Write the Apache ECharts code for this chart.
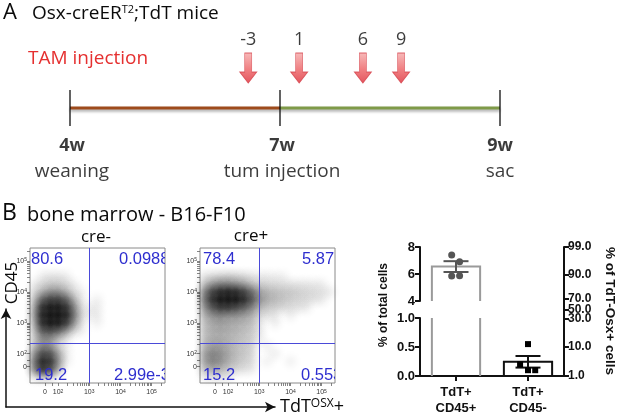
<!DOCTYPE html>
<html>
<head>
<meta charset="utf-8">
<script src="https://cdn.jsdelivr.net/npm/echarts@6/dist/echarts.min.js"></script>
<style>
    html, body { margin: 0; padding: 0; background: #fff; }
    #main { width: 617px; height: 414px; }
</style>
</head>
<body>
<div id="main"></div>
<script>
// A: schedule
var weeks = [4, 7, 9]
var weekLabels = ['4w', '7w', '9w']
var weekEvents = ['weaning', 'tum injection', 'sac']
var injectionDays = [-3, 1, 6, 9]

// B: flow plots, density of dots per cell, rows top -> bottom
var cellX = [1.25, 1.5, 1.75, 2.0, 2.25, 2.5, 2.75, 3.0, 3.25, 3.5, 3.75, 4.0, 4.25, 4.5, 4.75, 5.0, 5.25]
var cellY = [4.5, 4.25, 4.0, 3.75, 3.5, 3.25, 3.0, 2.75, 2.5, 2.25, 2.0, 1.75, 1.5, 1.25]
var creMinusDensity = [
    [0, 0.03, 0.05, 0.05, 0.03],
    [0.03, 0.08, 0.12, 0.12, 0.08, 0.03],
    [0.08, 0.2, 0.3, 0.3, 0.2, 0.07, 0.02],
    [0.15, 0.5, 0.65, 0.65, 0.5, 0.2, 0.03, 0, 0.02],
    [0.22, 0.78, 0.92, 0.92, 0.75, 0.35, 0.06, 0.02, 0.03],
    [0.25, 0.85, 1, 1, 0.85, 0.4, 0.08, 0.02, 0.03],
    [0.2, 0.8, 0.95, 0.92, 0.7, 0.3, 0.05, 0, 0.02],
    [0.15, 0.55, 0.6, 0.5, 0.3, 0.1, 0.02],
    [0.12, 0.32, 0.3, 0.15, 0.05],
    [0.15, 0.35, 0.3, 0.1, 0.02],
    [0.3, 0.6, 0.55, 0.25, 0.03],
    [0.4, 0.82, 0.72, 0.3, 0.03],
    [0.35, 0.75, 0.6, 0.2],
    [0.05, 0.1, 0.08]
]
var crePlusDensity = [
    [0.05, 0.08, 0.1, 0.12, 0.1, 0.08, 0.05, 0.03, 0.03, 0.02, 0.02],
    [0.15, 0.28, 0.35, 0.35, 0.3, 0.25, 0.15, 0.1, 0.08, 0.07, 0.06, 0.05, 0.04, 0.04, 0.03, 0.03],
    [0.35, 0.65, 0.8, 0.85, 0.8, 0.65, 0.45, 0.25, 0.18, 0.15, 0.13, 0.12, 0.1, 0.08, 0.07, 0.05, 0.04],
    [0.4, 0.75, 0.95, 1, 0.95, 0.8, 0.55, 0.3, 0.2, 0.16, 0.13, 0.1, 0.08, 0.07, 0.05, 0.04],
    [0.3, 0.55, 0.7, 0.7, 0.6, 0.5, 0.35, 0.18, 0.12, 0.1, 0.08, 0.06, 0.05, 0.04],
    [0.2, 0.3, 0.35, 0.3, 0.3, 0.25, 0.2, 0.08, 0.05, 0.04, 0, 0.03],
    [0.15, 0.22, 0.25, 0.22, 0.2, 0.18, 0.15, 0.05, 0, 0.03],
    [0.15, 0.2, 0.22, 0.2, 0.18, 0.15, 0.12, 0.04],
    [0.15, 0.2, 0.2, 0.18, 0.15, 0.13, 0.1, 0.03],
    [0.18, 0.25, 0.25, 0.2, 0.15, 0.12, 0.1, 0, 0.03],
    [0.25, 0.35, 0.3, 0.22, 0.15, 0.12, 0.08, 0, 0, 0.03],
    [0.25, 0.35, 0.3, 0.2, 0.14, 0.1, 0.07, 0, 0.02, 0, 0, 0.02],
    [0.15, 0.22, 0.18, 0.12, 0.08, 0.06, 0.04],
    [0.03, 0.05, 0.05, 0.03]
]
var creMinusQuadrants = ['80.6', '0.0988', '19.2', '2.99e-3']
var crePlusQuadrants = ['78.4', '5.87', '15.2', '0.553']
var gateX = 3.0
var gateY = 2.35
var flowLabelValues = [1.58, 2, 3, 4, 5]

// B: bar chart
var groups = ['TdT+\nCD45+', 'TdT+\nCD45-']
var barMeans = [6.55, 0.245]
var barSems = [0.4, 0.1]
var pointsCD45pos = [7.41, 6.91, 5.85, 5.87]
var pointsCD45neg = [0.55, 0.2, 0.1, 0.1]
var jitterCD45pos = [-0.06, 0.05, -0.06, 0.05]
var jitterCD45neg = [0, -0.11, 0, 0.1]
var rightTicks = ['1.0', '10.0', '30.0', '50.0', '70.0', '90.0', '99.0']
var rightTickPos = [0, 0.225, 0.442, 0.512, 0.597, 0.783, 1]

var chart = echarts.init(document.getElementById('main'))

var sans = '"Open Sans", "Noto Sans", sans-serif'
var arial = '"Liberation Sans", Arial, sans-serif'
var blue = '#2e2ecf'
var ink = '#0a0a0a'

// tick positions of a biexponential axis
var flowTicks = [1.58, 1.8]
for (var d = 2; d <= 5; d++) {
    for (var k = 1; k <= 9; k++) {
        var t = d + Math.log10(k)
        if (t < 5.4) flowTicks.push(t)
    }
}

function flowLabel(v) {
    if (Math.abs(v - 1.58) < 0.01) return '0'
    return '10{s|' + Math.round(v) + '}'
}

// gaussian-like blob, so neighbouring cells melt into one cloud
var blob = new echarts.graphic.RadialGradient(0.5, 0.5, 0.5, [
    { offset: 0, color: 'rgba(0,0,0,0.8)' },
    { offset: 0.25, color: 'rgba(0,0,0,0.66)' },
    { offset: 0.5, color: 'rgba(0,0,0,0.37)' },
    { offset: 0.75, color: 'rgba(0,0,0,0.13)' },
    { offset: 1, color: 'rgba(0,0,0,0)' }
])

function densityPoints(matrix) {
    var pts = []
    matrix.forEach(function (row, r) {
        row.forEach(function (d, c) {
            if (d > 0) {
                pts.push({ value: [cellX[c], cellY[r]], itemStyle: { opacity: Math.min(1, d * 1.0 + 0.03) } })
            }
        })
    })
    return pts
}

function flowAxes(gi) {
    var x = {
        gridIndex: gi, type: 'value', min: 1.1, max: 5.43,
        axisLine: { show: false }, splitLine: { show: false },
        axisTick: { show: true, length: 3, customValues: flowTicks, lineStyle: { color: '#666', width: 0.8 } },
        axisLabel: {
            customValues: flowLabelValues, formatter: flowLabel, margin: 6,
            fontSize: 7, color: '#333', fontFamily: arial,
            rich: { s: { fontSize: 5, verticalAlign: 'top', color: '#333' } }
        }
    }
    var y = {
        gridIndex: gi, type: 'value', min: 1.05, max: 5.42,
        axisLine: { show: false }, splitLine: { show: false },
        axisTick: { show: true, length: 3, customValues: flowTicks, lineStyle: { color: '#666', width: 0.8 } },
        axisLabel: {
            customValues: flowLabelValues, formatter: flowLabel, margin: 3,
            fontSize: 7, color: '#333', fontFamily: arial,
            rich: { s: { fontSize: 5, verticalAlign: 'top', color: '#333' } }
        }
    }
    return [x, y]
}

function flowSeries(gi, matrix) {
    return {
        type: 'scatter', xAxisIndex: gi, yAxisIndex: gi, silent: true, clip: true,
        symbol: 'circle', symbolSize: 23,
        itemStyle: { color: blob },
        data: densityPoints(matrix),
        markLine: {
            silent: true, symbol: ['none', 'none'], label: { show: false },
            lineStyle: { color: '#4a4ad8', width: 1, type: 'solid' },
            data: [{ xAxis: gateX }, { yAxis: gateY }]
        }
    }
}

function quadSeries(gi, labels, xOff) {
    return {
        type: 'custom', xAxisIndex: gi, yAxisIndex: gi, silent: true, clip: true, z: 6,
        data: labels.map(function (t, i) { return [i, 0] }),
        renderItem: function (params, api) {
            var cs = params.coordSys
            var i = params.dataIndex
            var y = i < 2 ? cs.y + 11 : cs.y + cs.height - 8
            return {
                type: 'text', x: cs.x + xOff[i], y: y,
                style: { text: labels[i], fill: blue, fontSize: 16.5, fontFamily: arial, align: 'left', verticalAlign: 'middle' }
            }
        }
    }
}

function barSeries(gi) {
    return {
        type: 'custom', xAxisIndex: gi, yAxisIndex: gi, silent: true, clip: true,
        data: barMeans.map(function (m, i) { return [i, m] }),
        renderItem: function (params, api) {
            var cs = params.coordSys
            var i = api.value(0)
            var half = api.size([1, 0])[0] * 0.335
            var cx = api.coord([i, 0])[0]
            var base = cs.y + cs.height
            var top = api.coord([i, api.value(1)])[1]
            if (top >= base) return null
            var style = { stroke: i === 0 ? '#9a9a9a' : '#111', lineWidth: 2, fill: 'none' }
            if (top < cs.y) {
                return {
                    type: 'group', children: [
                        { type: 'line', shape: { x1: cx - half, y1: base, x2: cx - half, y2: cs.y }, style: style },
                        { type: 'line', shape: { x1: cx + half, y1: base, x2: cx + half, y2: cs.y }, style: style }
                    ]
                }
            }
            return {
                type: 'polyline',
                shape: { points: [[cx - half, base], [cx - half, top], [cx + half, top], [cx + half, base]] },
                style: style
            }
        }
    }
}

function errorSeries(gi) {
    return {
        type: 'custom', xAxisIndex: gi, yAxisIndex: gi, silent: true, clip: true,
        data: barMeans.map(function (m, i) { return [i, m - barSems[i], m + barSems[i]] }),
        renderItem: function (params, api) {
            var i = api.value(0)
            var lo = api.coord([i, api.value(1)])
            var hi = api.coord([i, api.value(2)])
            var w = 12.5
            var style = { stroke: i === 0 ? '#555' : '#111', lineWidth: 2 }
            return {
                type: 'group', children: [
                    { type: 'line', shape: { x1: lo[0], y1: lo[1], x2: hi[0], y2: hi[1] }, style: style },
                    { type: 'line', shape: { x1: lo[0] - w, y1: lo[1], x2: lo[0] + w, y2: lo[1] }, style: style },
                    { type: 'line', shape: { x1: hi[0] - w, y1: hi[1], x2: hi[0] + w, y2: hi[1] }, style: style }
                ]
            }
        }
    }
}

function dotSeries(gi, values, jitter, group, symbol, color, size) {
    return {
        type: 'scatter', xAxisIndex: gi, yAxisIndex: gi, silent: true, clip: true,
        symbol: symbol, symbolSize: size, itemStyle: { color: color, opacity: 1 },
        data: values.map(function (v, k) { return [group + jitter[k], v] }), z: 5
    }
}

var hidden = { show: false }
function hiddenAxis(gi, min, max) {
    return { gridIndex: gi, type: 'value', min: min, max: max, show: false }
}

var fAxesL = flowAxes(3)
var fAxesR = flowAxes(4)

function barAxis(extra, ticks) {
    var tick = { show: true, length: 5, lineStyle: { color: '#111', width: 2 } }
    if (ticks) tick.customValues = ticks
    return Object.assign({
        axisLine: { show: true, onZero: false, lineStyle: { color: '#111', width: 2 } },
        axisTick: tick,
        splitLine: { show: false }
    }, extra)
}

var weekRich = {
    w: { fontSize: 18, fontWeight: 'bold', lineHeight: 24, fontFamily: sans, color: ink },
    e: { fontSize: 19, lineHeight: 27, fontFamily: sans, color: ink }
}

var option = {
    animation: false,
    backgroundColor: '#fff',
    grid: [
        { left: 159.05, top: 53, width: 254.8, height: 30 },
        { left: 70, top: 90, width: 210, height: 36 },
        { left: 280, top: 90, width: 220, height: 36 },
        { left: 30, top: 248, width: 135, height: 135, show: true, borderColor: '#8a8a8a', borderWidth: 1 },
        { left: 200, top: 248, width: 135, height: 135, show: true, borderColor: '#8a8a8a', borderWidth: 1 },
        { left: 420, top: 247, width: 144, height: 54 },
        { left: 420, top: 318, width: 144, height: 58 },
        { left: 420, top: 247, width: 144, height: 129 },
        { left: 6, top: 309, width: 269, height: 98 }
    ].map(function (g) { g.outerBoundsMode = 'none'; g.containLabel = false; return g }),
    xAxis: [
        hiddenAxis(0, -10, 10),
        hiddenAxis(1, 4, 7),
        hiddenAxis(2, 7, 9),
        fAxesL[0],
        fAxesR[0],
        hiddenAxis(5, -0.5, 1.5),
        barAxis({
            gridIndex: 6, type: 'value', min: -0.5, max: 1.5,
            axisLabel: {
                customValues: [0, 1], formatter: function (v) { return groups[Math.round(v)] },
                margin: 8, fontSize: 13, fontWeight: 'bold', color: '#111', fontFamily: arial, lineHeight: 16
            }
        }, [0, 1]),
        hiddenAxis(7, -0.5, 1.5),
        {
            gridIndex: 8, type: 'value', min: 0, max: 1,
            axisLine: { show: true, onZero: false, symbol: ['none', 'arrow'], symbolSize: [8, 10], lineStyle: { color: '#111', width: 1.5 } },
            axisTick: hidden, axisLabel: hidden, splitLine: hidden
        }
    ],
    yAxis: [
        hiddenAxis(0, 0, 1),
        hiddenAxis(1, -1, 1),
        hiddenAxis(2, -1, 1),
        fAxesL[1],
        fAxesR[1],
        barAxis({
            gridIndex: 5, type: 'value', min: 4, max: 8, interval: 2,
            axisLabel: { margin: 5, fontSize: 13, fontWeight: 'bold', color: '#111', fontFamily: arial }
        }),
        barAxis({
            gridIndex: 6, type: 'value', min: 0, max: 1, interval: 0.5,
            axisLabel: { margin: 5, fontSize: 13, fontWeight: 'bold', color: '#111', fontFamily: arial, formatter: function (v) { return v.toFixed(1) } }
        }),
        barAxis({
            gridIndex: 7, type: 'value', min: 0, max: 1, position: 'right',
            axisLabel: {
                customValues: rightTickPos, margin: 4, fontSize: 12, fontWeight: 'bold', color: '#111', fontFamily: arial,
                formatter: function (v) { return rightTicks[rightTickPos.indexOf(v)] }
            }
        }, rightTickPos),
        {
            gridIndex: 8, type: 'value', min: 0, max: 1,
            axisLine: { show: true, onZero: false, symbol: ['none', 'arrow'], symbolSize: [8, 10], lineStyle: { color: '#111', width: 1.5 } },
            axisTick: hidden, axisLabel: hidden, splitLine: hidden
        }
    ],
    series: [
        // injection arrows
        {
            type: 'scatter', xAxisIndex: 0, yAxisIndex: 0, silent: true,
            symbol: 'path://M5,0L12,0L12,19L17,19L8.5,30L0,19L5,19Z', symbolSize: [17, 30],
            itemStyle: {
                color: new echarts.graphic.LinearGradient(0, 0, 0, 1, [
                    { offset: 0, color: '#f5a9a9' },
                    { offset: 0.55, color: '#ec5f62' },
                    { offset: 1, color: '#dc2a35' }
                ]),
                borderColor: '#d44048', borderWidth: 0.8
            },
            label: {
                show: true, position: 'top', distance: 4, fontSize: 18, color: ink, fontFamily: sans,
                formatter: function (p) { return String(p.value[0]) }
            },
            data: injectionDays.map(function (d) { return [d, 0.5] })
        },
        // timeline
        {
            type: 'line', xAxisIndex: 1, yAxisIndex: 1, silent: true, symbol: 'none',
            lineStyle: { color: '#9e4b1c', width: 3, shadowColor: 'rgba(0,0,0,0.35)', shadowBlur: 3, shadowOffsetY: 2 },
            data: [[weeks[0], 0], [weeks[1], 0]]
        },
        {
            type: 'line', xAxisIndex: 2, yAxisIndex: 2, silent: true, symbol: 'none',
            lineStyle: { color: '#7f9a48', width: 3, shadowColor: 'rgba(0,0,0,0.35)', shadowBlur: 3, shadowOffsetY: 2 },
            data: [[weeks[1], 0], [weeks[2], 0]]
        },
        {
            type: 'scatter', xAxisIndex: 1, yAxisIndex: 1, silent: true, clip: false, z: 4,
            symbol: 'rect', symbolSize: [1.6, 36], itemStyle: { color: ink },
            label: {
                show: true, position: 'bottom', distance: 8, color: ink, fontFamily: sans, offset: [2, 0],
                formatter: function (p) { return '{w|' + weekLabels[p.dataIndex] + '}\n{e|' + weekEvents[p.dataIndex] + '}' },
                rich: weekRich
            },
            data: weeks.slice(0, 2).map(function (w) { return [w, 0] })
        },
        {
            type: 'scatter', xAxisIndex: 2, yAxisIndex: 2, silent: true, clip: false, z: 4,
            symbol: 'rect', symbolSize: [1.6, 36], itemStyle: { color: ink },
            label: {
                show: true, position: 'bottom', distance: 8, color: ink, fontFamily: sans,
                formatter: function (p) { return '{w|' + weekLabels[p.dataIndex + 2] + '}\n{e|' + weekEvents[p.dataIndex + 2] + '}' },
                rich: weekRich
            },
            data: weeks.slice(2).map(function (w) { return [w, 0] })
        },
        // flow plots
        flowSeries(3, creMinusDensity),
        flowSeries(4, crePlusDensity),
        quadSeries(3, creMinusQuadrants, [1, 89, 5, 84]),
        quadSeries(4, crePlusQuadrants, [3, 102, 3, 101]),
        // bar chart
        barSeries(5), barSeries(6),
        errorSeries(5), errorSeries(6),
        dotSeries(5, pointsCD45pos, jitterCD45pos, 0, 'circle', '#555', 7),
        dotSeries(6, pointsCD45pos, jitterCD45pos, 0, 'circle', '#555', 7),
        dotSeries(5, pointsCD45neg, jitterCD45neg, 1, 'rect', '#000', 6),
        dotSeries(6, pointsCD45neg, jitterCD45neg, 1, 'rect', '#000', 6)
    ],
    graphic: [
        { type: 'text', x: 3, y: 13, style: { text: 'A', fontSize: 22, fontFamily: sans, fill: ink, verticalAlign: 'middle' } },
        {
            type: 'text', x: 32, y: 14,
            style: {
                text: '{n|Osx-creER}{s|T2}{n|;TdT mice}', verticalAlign: 'middle', fill: ink,
                rich: {
                    n: { fontSize: 19, fontFamily: sans, fill: ink },
                    s: { fontSize: 11, fontFamily: sans, fill: ink, verticalAlign: 'top' }
                }
            }
        },
        { type: 'text', x: 28, y: 59, style: { text: 'TAM injection', fontSize: 19, fontFamily: sans, fill: '#e53030', verticalAlign: 'middle' } },
        { type: 'text', x: 2, y: 213, style: { text: 'B', fontSize: 23, fontFamily: sans, fill: ink, verticalAlign: 'middle' } },
        { type: 'text', x: 27, y: 215, style: { text: 'bone marrow - B16-F10', fontSize: 20, fontFamily: sans, fill: ink, verticalAlign: 'middle' } },
        { type: 'text', x: 96, y: 237, style: { text: 'cre-', fontSize: 17, fontFamily: sans, fill: ink, align: 'center', verticalAlign: 'middle' } },
        { type: 'text', x: 251, y: 236, style: { text: 'cre+', fontSize: 17, fontFamily: sans, fill: ink, align: 'center', verticalAlign: 'middle' } },
        { type: 'text', x: 12, y: 283, rotation: Math.PI / 2, style: { text: 'CD45', fontSize: 17, fontFamily: sans, fill: ink, align: 'center', verticalAlign: 'middle' } },
        {
            type: 'text', x: 280, y: 407,
            style: {
                text: '{a|TdT}{s|OSX}{p|+}', verticalAlign: 'middle', fill: ink,
                rich: {
                    a: { fontSize: 18, fontFamily: sans, fill: ink },
                    s: { fontSize: 12, fontFamily: sans, fill: ink, verticalAlign: 'top' },
                    p: { fontSize: 18, fontFamily: sans, fill: ink, verticalAlign: 'bottom' }
                }
            }
        },
        { type: 'text', x: 384, y: 305, rotation: Math.PI / 2, style: { text: '% of total cells', fontSize: 12, fontWeight: 'bold', fontFamily: arial, fill: '#111', align: 'center', verticalAlign: 'middle' } },
        { type: 'text', x: 610, y: 311, rotation: -Math.PI / 2, style: { text: '% of TdT-Osx+ cells', fontSize: 13.5, fontWeight: 'bold', fontFamily: arial, fill: '#111', align: 'center', verticalAlign: 'middle' } }
    ]
}

chart.setOption(option)
</script>
</body>
</html>
